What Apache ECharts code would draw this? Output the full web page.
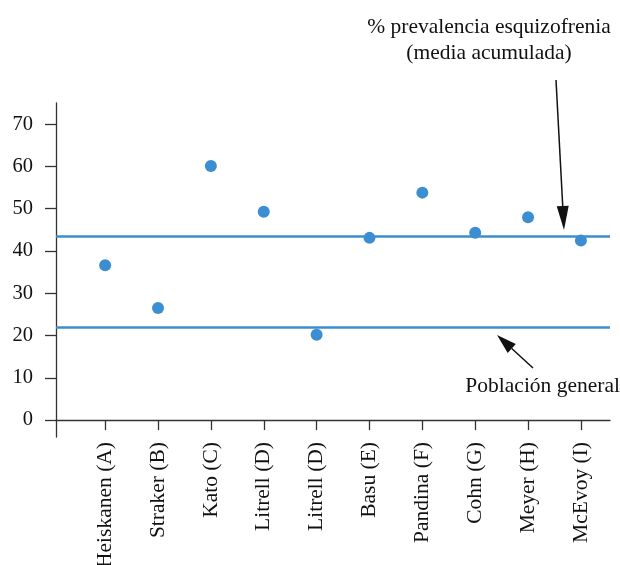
<!DOCTYPE html>
<html>
<head>
<meta charset="utf-8">
<script src="https://cdn.jsdelivr.net/npm/echarts@6/dist/echarts.min.js"></script>
<style>
  html, body { margin: 0; padding: 0; background: #fff; }
  #chart { width: 620px; height: 565px; }
</style>
</head>
<body>
<div id="chart"></div>
<script>
const categories = ['Heiskanen (A)', 'Straker (B)', 'Kato (C)', 'Litrell (D)', 'Litrell (D)',
  'Basu (E)', 'Pandina (F)', 'Cohn (G)', 'Meyer (H)', 'McEvoy (I)'];
const prevalence = [36.6, 26.5, 60.1, 49.3, 20.2, 43.1, 53.8, 44.3, 48.0, 42.5];
const pooledMean = 43.4;      // % prevalencia esquizofrenia (media acumulada)
const generalPopulation = 21.9; // Población general
const yTicks = [0, 10, 20, 30, 40, 50, 60, 70];
const xPositions = categories.map((c, i) => i + 1);

const FONT = '"Liberation Serif", "Times New Roman", serif';
const BLUE = '#3b8ed1';
const AXIS = '#333';

const chart = echarts.init(document.getElementById('chart'), null, { renderer: 'canvas' });

function arrow(x1, y1, x2, y2, headLen, headW) {
  const dx = x2 - x1, dy = y2 - y1;
  const len = Math.sqrt(dx * dx + dy * dy);
  const ux = dx / len, uy = dy / len;
  const bx = x2 - ux * headLen, by = y2 - uy * headLen;
  const px = -uy * headW / 2, py = ux * headW / 2;
  return [
    { type: 'line', shape: { x1: x1, y1: y1, x2: bx, y2: by }, style: { stroke: '#111', lineWidth: 1.5 }, silent: true },
    { type: 'polygon', shape: { points: [[x2, y2], [bx + px, by + py], [bx - px, by - py]] }, style: { fill: '#111' }, silent: true }
  ];
}

chart.setOption({
  animation: false,
  backgroundColor: '#fff',
  grid: { left: 56, right: 10, top: 103, bottom: 128, containLabel: false, outerBoundsMode: 'none' },
  xAxis: {
    type: 'value',
    min: 0.07,
    max: 10.55,
    splitLine: { show: false },
    axisLine: { onZero: true, lineStyle: { color: AXIS, width: 1.3 } },
    axisTick: { show: true, customValues: xPositions, length: 10, lineStyle: { color: AXIS, width: 1.3 } },
    axisLabel: {
      customValues: xPositions,
      formatter: v => categories[Math.round(v) - 1],
      rotate: 90,
      margin: 5,
      padding: [0, 0, 6, 0],
      color: '#111',
      fontFamily: FONT,
      fontSize: 21.5
    }
  },
  yAxis: {
    type: 'value',
    min: -4,
    max: 75,
    splitLine: { show: false },
    axisLine: { show: true, lineStyle: { color: AXIS, width: 1.3 } },
    axisTick: { show: true, customValues: yTicks, length: 11, lineStyle: { color: AXIS, width: 1.3 } },
    axisLabel: {
      customValues: yTicks,
      margin: 23,
      padding: [0, 0, 4, 0],
      color: '#111',
      fontFamily: FONT,
      fontSize: 20.5
    }
  },
  series: [{
    type: 'scatter',
    data: xPositions.map((x, i) => [x, prevalence[i]]),
    symbolSize: 12,
    itemStyle: { color: BLUE, opacity: 1 },
    markLine: {
      silent: true,
      symbol: ['none', 'none'],
      label: { show: false },
      lineStyle: { color: BLUE, width: 2.5, type: 'solid' },
      data: [{ yAxis: pooledMean }, { yAxis: generalPopulation }]
    }
  }],
  graphic: [
    {
      type: 'text', x: 489, y: 27,
      style: { text: '% prevalencia esquizofrenia', fill: '#111', font: '21.5px ' + FONT, textAlign: 'center', textVerticalAlign: 'middle' },
      silent: true
    },
    {
      type: 'text', x: 489, y: 53,
      style: { text: '(media acumulada)', fill: '#111', font: '21.5px ' + FONT, textAlign: 'center', textVerticalAlign: 'middle' },
      silent: true
    },
    {
      type: 'text', x: 620, y: 386,
      style: { text: 'Población general', fill: '#111', font: '21.5px ' + FONT, textAlign: 'right', textVerticalAlign: 'middle' },
      silent: true
    }
  ].concat(arrow(556, 80, 564, 230, 24, 12)).concat(arrow(533, 368, 497, 335, 20, 12))
});
</script>
</body>
</html>
